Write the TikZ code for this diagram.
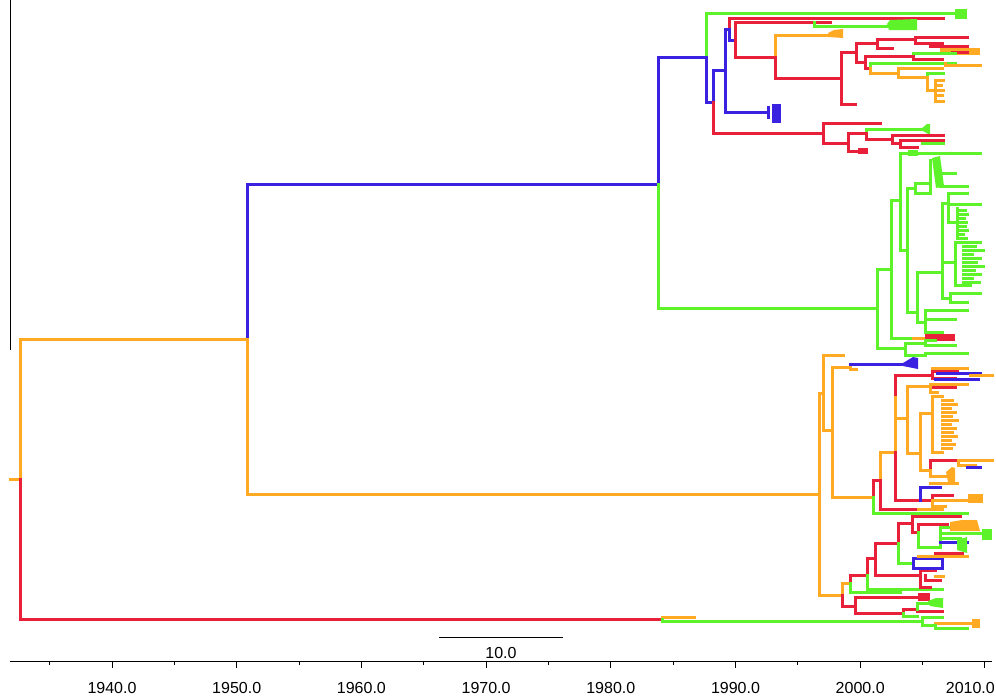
\documentclass[tikz,border=0pt]{standalone}
\usepackage{fontspec}
\setmainfont{Liberation Sans}
\definecolor{treered}{HTML}{E8203A}
\definecolor{treeblue}{HTML}{3B22E0}
\definecolor{treegreen}{HTML}{5EF22A}
\definecolor{treeorange}{HTML}{FFAA22}

\begin{document}
\begin{tikzpicture}[x=1pt, y=-1pt,
  branch/.style={line width=3pt, line cap=rect, line join=miter},
  redbr/.style={branch, draw=treered},
  bluebr/.style={branch, draw=treeblue},
  greenbr/.style={branch, draw=treegreen},
  orangebr/.style={branch, draw=treeorange},
  axislbl/.style={font=\fontsize{16}{16}\selectfont, inner sep=0pt},
  rule/.style={line width=1pt, draw=black}
]
\useasboundingbox (0,0) rectangle (996,696);

\draw[rule] (10,0) -- (10,350);

% backbone
\draw[orangebr] (10,479) -- (20,479);
\draw[orangebr] (20,479) |- (247,339);
\draw[redbr] (20,479) |- (662,619);
\draw[bluebr] (247,339) |- (658,184);
\draw[orangebr] (247,339) |- (819,494);
\draw[bluebr] (658,184) |- (706,57);
\draw[greenbr] (658,184) |- (877,308);

% upper clade
\draw[greenbr] (706,57) |- (957,13);
\fill[treegreen] (955,9) rectangle (967,19);
\draw[bluebr] (706,57) |- (713,102);
\draw[bluebr] (713,102) |- (725,70);
\draw[redbr] (713,102) |- (823,133);
\draw[bluebr] (725,70) |- (729,29) (725,70) |- (768,112);
\fill[treeblue] (767,106) rectangle (770,119);
\fill[treeblue] (772,104) rectangle (781,123);
\draw[redbr] (729,29) |- (943,18);
\draw[bluebr] (729,29) |- (735,40);
\draw[redbr] (735,40) |- (830,22) (735,40) |- (775,57);
\draw[greenbr] (814,22) |- (889,26);
\fill[treegreen] (887,24) -- (890,20) -- (917,19) -- (917,30) -- (889,30) -- cycle;
\draw[orangebr] (775,57) |- (830,35);
\fill[treeorange] (828,33) -- (834,30) -- (843,29) -- (843,38) -- (828,37) -- cycle;
\draw[redbr] (775,57) |- (841,78);
\draw[redbr] (841,78) |- (856,52) (841,78) |- (855,104);
\draw[redbr] (856,52) |- (877,43) (856,52) |- (865,62);
\draw[redbr] (877,43) |- (915,39) (877,43) |- (892,48);
\draw[redbr] (915,39) |- (967,37) (915,39) |- (942,43);
\draw[redbr] (930,43) |- (967,46);
\fill[treeorange] (940,48) rectangle (980,55);
\draw[redbr] (952,52) -- (967,52);
\draw[redbr] (865,62) |- (913,56) (865,62) |- (870,68);
\draw[greenbr] (913,56) |- (955,53);
\draw[redbr] (913,56) |- (942,59);
\draw[greenbr] (870,68) |- (945,63);
\draw[greenbr] (945,63) -- (955,63);
\draw[orangebr] (945,63) |- (980,65);
\draw[orangebr] (870,68) |- (898,73);
\draw[orangebr] (898,73) |- (942,68) (898,73) |- (927,77);
\draw[greenbr] (927,77) |- (943,73);
\draw[orangebr] (927,77) |- (935,90);
\draw[orangebr] (935,90) |- (943,80) (935,90) |- (943,101);
\draw[orangebr] (935,85) -- (941,85) (935,95) -- (942,95) (938,90) -- (943,90);

% red clade below
\draw[redbr] (823,133) |- (880,123) (823,133) |- (848,143);
\draw[redbr] (848,143) |- (866,133) (848,143) |- (862,151);
\fill[treered] (858,148) rectangle (868,154);
\draw[greenbr] (866,133) |- (923,129);
\fill[treegreen] (921,129) -- (927,124) -- (930,124) -- (930,135) -- (923,131) -- cycle;
\draw[redbr] (866,133) |- (892,139);
\draw[redbr] (892,139) |- (943,135) (892,139) |- (900,143);
\draw[redbr] (900,143) |- (943,140) (900,143) |- (917,147);
\draw[greenbr] (922,143) -- (943,143);

% green clade
\draw[greenbr] (877,308) |- (891,269) (877,308) |- (905,348);
\draw[greenbr] (891,269) |- (900,200) (891,269) |- (913,338);
\draw[orangebr] (913,338) -- (925,338);
\fill[treered] (925,334) rectangle (955,341);
\draw[greenbr] (905,348) |- (925,343) (905,348) |- (925,355);
\draw[greenbr] (925,343) |- (955,345) (925,343) |- (935,340);
\draw[greenbr] (925,355) |- (967,353);
\draw[greenbr] (900,200) |- (980,153) (900,200) |- (907,250);
\fill[treegreen] (908,150) rectangle (918,156);
\draw[greenbr] (907,250) |- (915,188) (907,250) |- (917,312);
\draw[greenbr] (915,188) |- (930,183) (915,188) |- (930,193);
\draw[greenbr] (930,193) -- (930,160);
\fill[treegreen] (932,158) -- (940,156) -- (944,186) -- (936,188) -- cycle;
\draw[greenbr] (940,173) -- (955,173) (940,186) -- (967,186);
\draw[greenbr] (917,312) |- (942,272) (917,312) |- (925,322);
\draw[greenbr] (925,322) |- (967,310) (925,322) |- (942,332);
\draw[greenbr] (925,319) -- (955,319);
\draw[greenbr] (942,272) |- (948,203) (942,272) |- (955,262) (942,272) |- (950,298);
\draw[greenbr] (948,203) |- (967,193) (948,203) |- (980,204) (948,203) |- (957,222);
\draw[greenbr] (957,208) -- (957,238);
\draw[greenbr] (957,210) -- (965,210) (957,214) -- (967,214) (957,218) -- (964,218)
  (957,222) -- (966,222) (957,226) -- (965,226) (957,230) -- (967,230) (957,234) -- (963,234)
  (957,238) -- (966,238);
\draw[greenbr] (955,262) |- (963,242) (955,262) |- (963,285);
\draw[greenbr] (963,242) -- (980,242) (963,246) -- (975,246) (963,250) -- (983,250)
  (963,254) -- (972,254) (963,258) -- (980,258) (963,262) -- (976,262) (963,266) -- (983,266)
  (963,270) -- (974,270) (963,274) -- (980,274) (963,278) -- (972,278) (963,282) -- (979,282)
  (963,285) -- (970,285);
\draw[greenbr] (950,298) |- (980,293) (950,298) |- (967,302);

% lower clade
\draw[orangebr] (819,494) |- (823,393) (819,494) |- (842,595);
\draw[orangebr] (823,393) |- (843,355) (823,393) |- (832,430);
\draw[orangebr] (832,430) |- (850,367) (832,430) |- (873,497);
\draw[bluebr] (850,367) |- (905,364);
\draw[orangebr] (850,367) |- (856,369);
\fill[treeblue] (903,363) -- (913,357) -- (918,358) -- (918,369) -- (903,366) -- cycle;
\draw[redbr] (873,497) |- (880,480);
\draw[greenbr] (873,497) |- (967,513);
\draw[orangebr] (880,480) |- (895,452);
\draw[redbr] (880,480) |- (918,509);
\draw[orangebr] (918,509) -- (942,509);
\draw[redbr] (895,452) |- (932,375);
\draw[orangebr] (895,452) |- (907,418);
\draw[orangebr] (895,452) -- (895,397);
\draw[redbr] (895,452) |- (932,500);
\draw[orangebr] (932,375) |- (967,368);
\draw[redbr] (932,375) |- (957,371);
\draw[bluebr] (937,373) -- (980,373);
\draw[orangebr] (970,375) -- (992,375);
\draw[redbr] (932,375) |- (955,378);
\draw[bluebr] (935,379) -- (978,379);
\draw[orangebr] (907,418) |- (930,386) (907,418) |- (920,453);
\draw[orangebr] (930,386) |- (967,384) (930,386) |- (937,392);
\draw[redbr] (933,387) -- (955,387);
\draw[orangebr] (920,453) |- (932,413) (920,453) |- (930,470);
\draw[orangebr] (932,413) |- (942,396) (932,413) |- (942,452);
\draw[orangebr] (942,400) -- (952,400) (942,404) -- (956,404) (942,408) -- (950,408)
  (942,412) -- (955,412) (942,416) -- (951,416) (942,420) -- (957,420) (942,424) -- (950,424)
  (942,428) -- (955,428) (942,432) -- (952,432) (942,436) -- (956,436) (942,440) -- (950,440)
  (942,444) -- (954,444) (942,448) -- (951,448);
\draw[redbr] (930,470) |- (958,460);
\draw[orangebr] (958,460) -- (992,460) (958,460) |- (975,465);
\draw[bluebr] (967,467) -- (980,467);
\draw[orangebr] (930,470) |- (948,476);
\fill[treeorange] (946,472) -- (952,467) -- (955,468) -- (955,482) -- (948,482) -- cycle;
\draw[bluebr] (920,500) |- (940,487);
\draw[orangebr] (930,483) -- (957,483);
\draw[redbr] (932,500) |- (952,495);
\draw[orangebr] (932,500) |- (970,500) (932,500) |- (945,506);
\fill[treeorange] (968,494) rectangle (983,503);

\draw[orangebr] (842,595) |- (850,583);
\draw[redbr] (842,595) |- (855,606);
\draw[redbr] (850,583) |- (867,575);
\draw[greenbr] (850,583) |- (900,592);
\draw[redbr] (867,575) |- (875,558);
\draw[greenbr] (867,575) |- (942,589);
\draw[redbr] (875,558) |- (898,543) (875,558) |- (920,575);
\draw[redbr] (920,575) |- (935,570) (920,575) |- (930,587);
\draw[redbr] (925,575) |- (940,580);
\draw[orangebr] (935,576) -- (943,576);
\draw[redbr] (898,543) |- (912,523);
\draw[greenbr] (898,543) |- (913,563);
\draw[bluebr] (913,563) |- (942,558) (913,563) |- (942,568);
\draw[bluebr] (942,558) -- (942,568);
\draw[redbr] (912,523) |- (960,516);
\draw[redbr] (912,523) |- (918,532);
\draw[redbr] (918,532) |- (947,524);
\draw[greenbr] (918,532) |- (940,547);
\draw[greenbr] (940,547) |- (970,527);
\draw[greenbr] (940,533) -- (985,533);
\fill[treegreen] (982,529) rectangle (992,540);
\draw[greenbr] (940,538) -- (960,538);
\draw[bluebr] (940,542) -- (967,542);
\fill[treegreen] (957,540) -- (967,537) -- (967,553) -- (957,550) -- cycle;
\draw[redbr] (935,553) -- (962,553);
\fill[treeorange] (950,522) -- (962,520) -- (977,520) -- (980,531) -- (950,531) -- cycle;
\draw[orangebr] (918,556) -- (967,556);
\draw[redbr] (855,606) |- (918,597) (855,606) |- (903,613);
\fill[treered] (918,593) rectangle (930,601);
\draw[redbr] (903,613) |- (917,609);
\draw[greenbr] (903,613) |- (917,616);
\draw[redbr] (917,609) |- (942,611);
\draw[greenbr] (917,609) |- (930,603);
\fill[treegreen] (928,601) -- (936,598) -- (943,598) -- (943,608) -- (930,606) -- cycle;

% bottom lineage
\draw[orangebr] (662,619) |- (694,617);
\draw[greenbr] (662,619) |- (922,621);
\draw[greenbr] (922,621) |- (942,617) (922,621) |- (935,625);
\draw[orangebr] (935,625) |- (972,623);
\fill[treeorange] (972,619) rectangle (980,628);
\draw[greenbr] (935,625) |- (967,628);

% scale bar
\coordinate (sbl) at (439,637);
\coordinate (sbr) at (563,637);
\draw[rule] (sbl) -- (sbr);
\node[axislbl] (sblbl) at (501,653) {10.0};

% time axis
\draw[rule] (10,661) -- (992,661);
\foreach \yr in {1940,1950,...,2010}
  \draw[rule] ({112+12.47*(\yr-1940)},661) -- ++(0,7);
\foreach \yr in {1935,1945,...,2005}
  \draw[rule] ({112+12.47*(\yr-1940)},661) -- ++(0,4);
\foreach \yr in {1940,1950,...,2000}
  \node[axislbl] (yr\yr) at ({112+12.47*(\yr-1940)},688) {\yr.0};
\node[axislbl, anchor=east] (yr2010) at (995,688) {2010.0};
\end{tikzpicture}
\end{document}
